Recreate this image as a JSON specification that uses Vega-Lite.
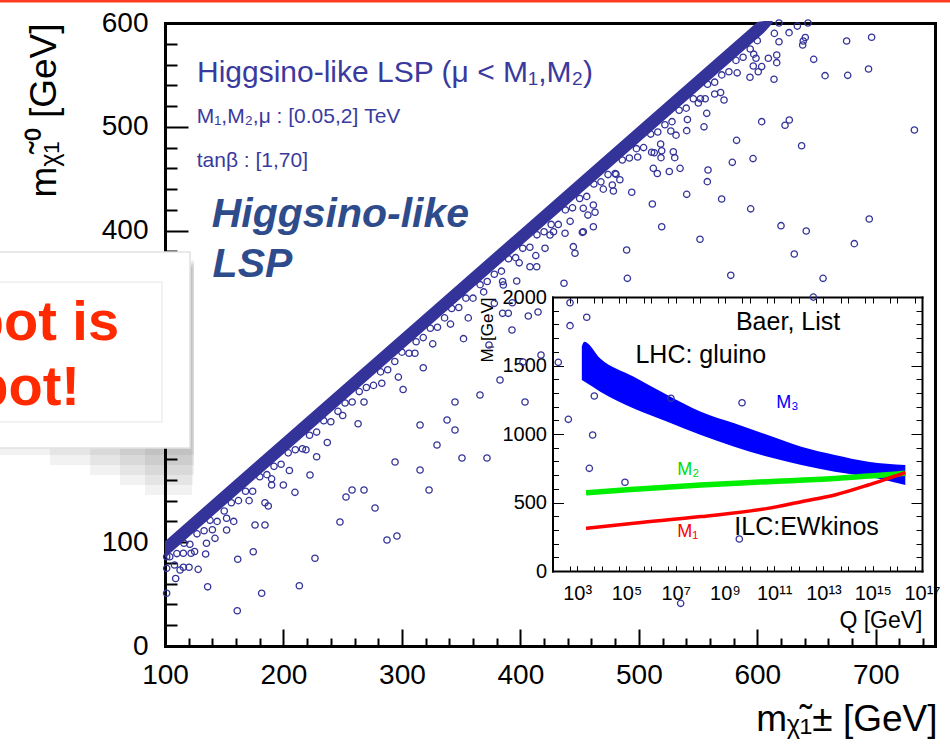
{
 "$schema": "https://vega.github.io/schema/vega-lite/v6.json",
 "width": 770, "height": 623,
 "autosize": {"type": "none"},
 "padding": {"left": 165, "top": 23, "right": 15, "bottom": 108},
 "background": "white",
 "config": {
  "view": {"stroke": null},
  "font": "Liberation Sans",
  "axis": {"grid": false, "zindex": 0, "labelFont": "Liberation Sans", "titleFont": "Liberation Sans", "labelColor": "#000", "titleColor": "#000", "tickColor": "#000", "domainColor": "#000", "titleFontWeight": "normal", "labelFlush": false, "labelOverlap": false}
 },
 "datasets": {
  "band": [
   {"mc":100,"lo":85,"hi":101},{"mc":200,"lo":185,"hi":201},{"mc":300,"lo":285,"hi":301},{"mc":400,"lo":385,"hi":401},{"mc":500,"lo":485,"hi":501},{"mc":600,"lo":585,"hi":601},{"mc":606,"lo":591,"hi":602},{"mc":613,"lo":600,"hi":602}
  ],
  "pts": [
   {"mc":101.4,"mn":50.8},{"mc":101.4,"mn":74.8},{"mc":101.4,"mn":86},{"mc":109,"mn":65},{"mc":112.7,"mn":73.2},{"mc":115.5,"mn":75.8},{"mc":120.3,"mn":75.8},{"mc":115.5,"mn":89.3},{"mc":122,"mn":89.3},{"mc":128,"mn":73.8},{"mc":134.3,"mn":88.6},{"mc":136,"mn":57},{"mc":135,"mn":99},{"mc":142.2,"mn":103.7},{"mc":152,"mn":111.7},{"mc":152,"mn":123},{"mc":161.4,"mn":83.5},{"mc":161,"mn":34},{"mc":174.5,"mn":90.8},{"mc":176,"mn":116.5},{"mc":184.4,"mn":116.5},{"mc":181.6,"mn":50.8},{"mc":184.4,"mn":138},{"mc":187.2,"mn":134.8},{"mc":199.9,"mn":155},{"mc":209.7,"mn":148},{"mc":213.4,"mn":58},{"mc":226.6,"mn":84.5},{"mc":190,"mn":155},
   {"mc":247.7,"mn":119.4},{"mc":252.8,"mn":143.5},{"mc":257.9,"mn":150.2},{"mc":268,"mn":150.2},{"mc":277.3,"mn":132.9},{"mc":287.4,"mn":102.1},{"mc":295.8,"mn":105.9},{"mc":315.3,"mn":169.5},{"mc":329.6,"mn":193.6},{"mc":338.1,"mn":217.7},{"mc":350.7,"mn":181.1},{"mc":371.8,"mn":181.1},{"mc":344.8,"mn":235},{"mc":365.9,"mn":241.7},{"mc":382.8,"mn":256.2},{"mc":373.5,"mn":289.9},{"mc":402.2,"mn":273.5},{"mc":417.4,"mn":280.3},{"mc":392.9,"mn":304.3},{"mc":414.9,"mn":321.7},{"mc":322.9,"mn":150.2},{"mc":294.2,"mn":177.2},{"mc":315.3,"mn":212.8},{"mc":344.8,"mn":208},{"mc":403.9,"mn":235},{"mc":228,"mn":182.3},{"mc":222.4,"mn":164.7},{"mc":263,"mn":214},{"mc":301,"mn":247},{"mc":318,"mn":268},{"mc":352,"mn":296},{"mc":378,"mn":330},
   {"mc":385.6,"mn":347.7},{"mc":396.9,"mn":351.5},{"mc":436.8,"mn":349.3},{"mc":490.3,"mn":354.1},{"mc":655.5,"mn":354.1},{"mc":647.3,"mn":336},{"mc":385,"mn":320.4},{"mc":389.8,"mn":320.4},{"mc":393.2,"mn":330.6},{"mc":406.7,"mn":317.8},{"mc":441.9,"mn":330.6},{"mc":456,"mn":316.6},{"mc":441.9,"mn":308.5},{"mc":432,"mn":273.2},{"mc":462.4,"mn":240.8},{"mc":440.5,"mn":218.3},{"mc":461,"mn":203.2},{"mc":458.2,"mn":171.1},{"mc":488.3,"mn":157.7},{"mc":527.1,"mn":238.6},{"mc":587.1,"mn":234.3},{"mc":584.8,"mn":103},{"mc":535.3,"mn":41.1},
   {"mc":453.1,"mn":399},{"mc":461.6,"mn":403.8},{"mc":444.7,"mn":384.6},{"mc":446.1,"mn":378.2},{"mc":413.8,"mn":365.3},{"mc":408.1,"mn":365.3},{"mc":420.8,"mn":383},{"mc":437.7,"mn":397.5},{"mc":425,"mn":395.8},
   {"mc":618.3,"mn":600},{"mc":642.8,"mn":600},{"mc":626.8,"mn":590.7},{"mc":633.8,"mn":597},{"mc":640.5,"mn":586},{"mc":638.8,"mn":582.7},{"mc":638.3,"mn":578.8},{"mc":618.3,"mn":582},{"mc":614.4,"mn":590},{"mc":609.3,"mn":566},{"mc":616.4,"mn":569.2},{"mc":616.4,"mn":561.8},{"mc":598.9,"mn":566},{"mc":603.7,"mn":558},{"mc":596.6,"mn":558.6},{"mc":593.8,"mn":547.7},{"mc":600.8,"mn":553},{"mc":614.1,"mn":545.8},{"mc":647.6,"mn":565},{"mc":657.2,"mn":549.3},{"mc":675.4,"mn":582.7},{"mc":676.3,"mn":549.6},{"mc":696.5,"mn":586.3},{"mc":693.9,"mn":555.7},{"mc":732.6,"mn":497},{"mc":603.7,"mn":505},{"mc":623.4,"mn":501.5},{"mc":627,"mn":506.6},{"mc":637.4,"mn":481.8},{"mc":582.5,"mn":487},{"mc":571.9,"mn":525.9},{"mc":564,"mn":531.6},{"mc":555,"mn":500},{"mc":557.3,"mn":513},{"mc":550.2,"mn":523},{"mc":540.4,"mn":496.3},{"mc":531.4,"mn":492},{"mc":578.9,"mn":465.8},{"mc":596.4,"mn":469.4},{"mc":558.4,"mn":458.4},{"mc":557.8,"mn":447.2},{"mc":534.8,"mn":460},{"mc":525.7,"mn":457},{"mc":515.6,"mn":455},{"mc":512.2,"mn":460},{"mc":519.3,"mn":477},{"mc":518.7,"mn":470.3},{"mc":530.3,"mn":470.3},{"mc":529.1,"mn":476},{"mc":518.4,"mn":483.5},{"mc":510.8,"mn":475.5},{"mc":540.4,"mn":435},{"mc":569.9,"mn":430.5},{"mc":594.4,"mn":421},{"mc":511.4,"mn":425.7},{"mc":494,"mn":437},{"mc":478.5,"mn":438.2},{"mc":477.6,"mn":444},{"mc":519.3,"mn":403.8},{"mc":452.3,"mn":398.4},{"mc":463,"mn":417.7},{"mc":461.6,"mn":424.7},{"mc":453.1,"mn":421.5},{"mc":489.7,"mn":381.4},{"mc":551.6,"mn":391.7},{"mc":577.6,"mn":357},{"mc":620,"mn":404.8},{"mc":641.3,"mn":399.7},{"mc":631.2,"mn":377.5},{"mc":694.5,"mn":411.2},{"mc":681.9,"mn":387.5},{"mc":480.7,"mn":454.3},
   {"mc":104,"mn":86},{"mc":110,"mn":89},{"mc":116,"mn":99},{"mc":121,"mn":98},{"mc":127,"mn":108},{"mc":133,"mn":111},{"mc":138,"mn":121},{"mc":144,"mn":120},{"mc":150,"mn":130},{"mc":156,"mn":138},{"mc":162,"mn":140},{"mc":168,"mn":149},{"mc":174,"mn":149},{"mc":180,"mn":163},{"mc":186,"mn":165},{"mc":192,"mn":173},{"mc":198,"mn":175},{"mc":204,"mn":186},{"mc":210,"mn":189},{"mc":216,"mn":190},{"mc":222,"mn":203},{"mc":228,"mn":206},{"mc":234,"mn":217},{"mc":240,"mn":216},{"mc":246,"mn":226},{"mc":252,"mn":234},{"mc":258,"mn":235},{"mc":264,"mn":245},{"mc":270,"mn":249},{"mc":276,"mn":251},{"mc":282,"mn":264},{"mc":288,"mn":266},{"mc":294,"mn":274},{"mc":300,"mn":283},{"mc":306,"mn":282},{"mc":312,"mn":293},{"mc":318,"mn":297},{"mc":324,"mn":306},{"mc":330,"mn":307},{"mc":336,"mn":316},{"mc":342,"mn":325},{"mc":348,"mn":326},{"mc":354,"mn":335},{"mc":360,"mn":335},{"mc":366,"mn":348},{"mc":372,"mn":351},{"mc":378,"mn":358},{"mc":384,"mn":361},{"mc":390,"mn":373},{"mc":396,"mn":374},{"mc":402,"mn":383},{"mc":408,"mn":384},{"mc":414,"mn":396},{"mc":420,"mn":399},{"mc":426,"mn":406},{"mc":432,"mn":406},{"mc":438,"mn":420},{"mc":444,"mn":422},{"mc":450,"mn":431},{"mc":456,"mn":433},{"mc":462,"mn":445},{"mc":468,"mn":447},{"mc":474,"mn":454},{"mc":480,"mn":455},{"mc":486,"mn":468},{"mc":492,"mn":470},{"mc":498,"mn":479},{"mc":504,"mn":480},{"mc":510,"mn":493},{"mc":516,"mn":495},{"mc":522,"mn":502},{"mc":528,"mn":505},{"mc":534,"mn":516},{"mc":540,"mn":518},{"mc":546,"mn":527},{"mc":552,"mn":527},{"mc":558,"mn":541},{"mc":564,"mn":543},{"mc":570,"mn":550},{"mc":576,"mn":553},{"mc":582,"mn":564},{"mc":588,"mn":567},{"mc":594,"mn":575},{"mc":600,"mn":583},
   {"mc":108,"mn":78},{"mc":125,"mn":91},{"mc":140,"mn":112},{"mc":158,"mn":120},{"mc":171,"mn":140},{"mc":190,"mn":161},{"mc":205,"mn":169},{"mc":219,"mn":189},{"mc":237,"mn":196},{"mc":250,"mn":222},{"mc":268,"mn":235},{"mc":283,"mn":253},{"mc":297,"mn":259},{"mc":311,"mn":282},{"mc":326,"mn":291},{"mc":341,"mn":310},{"mc":356,"mn":316},{"mc":369,"mn":341},{"mc":385,"mn":351},{"mc":399,"mn":369},{"mc":413,"mn":376},{"mc":428,"mn":399},{"mc":442,"mn":409},{"mc":457,"mn":415},{"mc":470,"mn":440},{"mc":484,"mn":449},{"mc":499,"mn":471},{"mc":513,"mn":475},{"mc":527,"mn":496},{"mc":541,"mn":507},{"mc":556,"mn":527},{"mc":569,"mn":533},{"mc":583,"mn":552},{"mc":597,"mn":570}
  ],
  "m3": [
   {"Q":1550,"lo":1394,"hi":1640},{"Q":1950,"lo":1383,"hi":1674},{"Q":8700,"lo":1309,"hi":1552},{"Q":200000,"lo":1187,"hi":1418},{"Q":4600000,"lo":1090,"hi":1285},{"Q":105000000,"lo":993,"hi":1163},{"Q":2400000000,"lo":907,"hi":1078},{"Q":55000000000,"lo":834,"hi":993},{"Q":1260000000000,"lo":774,"hi":907},{"Q":29000000000000,"lo":725,"hi":847},{"Q":660000000000000,"lo":688,"hi":798},{"Q":21000000000000000,"lo":628,"hi":774}
  ],
  "m2": [
   {"Q":2300,"M":571},{"Q":200000,"M":596},{"Q":105000000,"M":628},{"Q":55000000000,"M":652},{"Q":29000000000000,"M":676},{"Q":21000000000000000,"M":713}
  ],
  "m1": [
   {"Q":2300,"M":311},{"Q":200000,"M":348},{"Q":105000000,"M":397},{"Q":55000000000,"M":457},{"Q":1260000000000,"M":506},{"Q":29000000000000,"M":555},{"Q":660000000000000,"M":628},{"Q":4400000000000000,"M":677},{"Q":21000000000000000,"M":718}
  ]
 },
 "layer": [
  {
   "data": {"name": "band"},
   "mark": {"type": "area", "color": "#333399", "opacity": 1},
   "encoding": {
    "x": {"field": "mc", "type": "quantitative", "scale": {"domain": [100, 750], "nice": false, "zero": false},
     "axis": {"orient": "bottom", "values": [100,200,300,400,500,600,700], "tickSize": -17, "tickWidth": 2, "domainWidth": 3, "domainCap": "square", "labelFontSize": 28, "labelPadding": 32, "title": "mᵪ̃₁± [GeV]", "titleFontSize": 37, "titleX": 772, "titleY": 84, "titleAlign": "right", "titleBaseline": "alphabetic"}},
    "y": {"field": "lo", "type": "quantitative", "scale": {"domain": [0, 600], "nice": false, "zero": false},
     "axis": {"orient": "left", "values": [0,100,200,300,400,500,600], "tickSize": -23, "tickWidth": 2, "domainWidth": 3, "domainCap": "square", "labelFontSize": 28, "labelPadding": 40, "title": "mᵪ̃₁⁰ [GeV]", "titleFontSize": 37, "titleAngle": -90, "titleX": -110, "titleY": 0, "titleAlign": "right", "titleBaseline": "alphabetic"}},
    "y2": {"field": "hi"}
   }
  },
  {
   "data": {"name": "band"},
   "mark": {"type": "point", "opacity": 0},
   "encoding": {
    "x": {"field": "mc", "type": "quantitative", "scale": {"domain": [100, 750], "nice": false, "zero": false},
     "axis": {"orient": "bottom", "values": [120,140,160,180,220,240,260,280,320,340,360,380,420,440,460,480,520,540,560,580,620,640,660,680,720,740], "tickSize": -8, "tickWidth": 2, "domain": false, "labels": false, "title": null}},
    "y": {"field": "lo", "type": "quantitative", "scale": {"domain": [0, 600], "nice": false, "zero": false},
     "axis": {"orient": "left", "values": [20,40,60,80,120,140,160,180,220,240,260,280,320,340,360,380,420,440,460,480,520,540,560,580], "tickSize": -12, "tickWidth": 2, "domain": false, "labels": false, "title": null}}
   }
  },
  {
   "data": {"name": "m3"},
   "mark": {"type": "area", "color": "#0000ff", "interpolate": "monotone"},
   "encoding": {
    "x": {"field": "Q", "type": "quantitative", "scale": {"type": "log", "domain": [100, 1e17], "range": [387.5, 757], "nice": false},
     "axis": {"orient": "bottom", "offset": -75, "values": [1e3,1e5,1e7,1e9,1e11,1e13,1e15,1e17], "labelExpr": "datum.value < 5e3 ? '10³' : datum.value < 5e5 ? '10⁵' : datum.value < 5e7 ? '10⁷' : datum.value < 5e9 ? '10⁹' : datum.value < 5e11 ? '10¹¹' : datum.value < 5e13 ? '10¹³' : datum.value < 5e15 ? '10¹⁵' : '10¹⁷'", "tickSize": -5, "tickWidth": 1, "domainWidth": 2, "domainCap": "square", "labelFontSize": 20, "labelPadding": 17, "title": "Q [GeV]", "titleFontSize": 23, "titleX": 757, "titleY": 56, "titleAlign": "right", "titleBaseline": "alphabetic"}},
    "y": {"field": "lo", "type": "quantitative", "scale": {"domain": [0, 2000], "range": [548, 274], "nice": false, "zero": false},
     "axis": {"orient": "left", "offset": -387.5, "values": [0,500,1000,1500,2000], "format": "d", "tickSize": -11, "tickWidth": 1, "domainWidth": 2, "domainCap": "square", "labelFontSize": 20, "labelPadding": 17, "title": "Mᵢ [GeV]", "titleFontSize": 17, "titleAngle": -90, "titleX": -60, "titleY": 274, "titleAlign": "right", "titleBaseline": "alphabetic"}},
    "y2": {"field": "hi"}
   }
  },
  {
   "data": {"name": "m2"},
   "mark": {"type": "line", "color": "#00ee00", "strokeWidth": 5.5, "interpolate": "monotone"},
   "encoding": {
    "x": {"field": "Q", "type": "quantitative", "scale": {"type": "log", "domain": [100, 1e17], "range": [387.5, 757], "nice": false},
     "axis": {"orient": "bottom", "offset": -75, "values": [500,1e3,5e3,1e4,5e4,1e5,5e5,1e6,5e6,1e7,5e7,1e8,5e8,1e9,5e9,1e10,5e10,1e11,5e11,1e12,5e12,1e13,5e13,1e14,5e14,1e15,5e15,1e16,5e16], "tickSize": -5, "tickWidth": 1, "domain": false, "labels": false, "title": null}},
    "y": {"field": "M", "type": "quantitative", "scale": {"domain": [0, 2000], "range": [548, 274], "nice": false, "zero": false},
     "axis": {"orient": "left", "offset": -387.5, "values": [100,200,300,400,600,700,800,900,1100,1200,1300,1400,1600,1700,1800,1900], "tickSize": -6, "tickWidth": 1, "domain": false, "labels": false, "title": null}}
   }
  },
  {
   "data": {"name": "m1"},
   "mark": {"type": "line", "color": "#ff0000", "strokeWidth": 3.5, "interpolate": "monotone"},
   "encoding": {
    "x": {"field": "Q", "type": "quantitative", "scale": {"type": "log", "domain": [100, 1e17], "range": [387.5, 757], "nice": false},
     "axis": {"orient": "top", "offset": -274, "values": [500,1e3,5e3,1e4,5e4,1e5,5e5,1e6,5e6,1e7,5e7,1e8,5e8,1e9,5e9,1e10,5e10,1e11,5e11,1e12,5e12,1e13,5e13,1e14,5e14,1e15,5e15,1e16,5e16], "tickSize": -6, "tickWidth": 1, "domainWidth": 2, "domainCap": "square", "labels": false, "title": null}},
    "y": {"field": "M", "type": "quantitative", "scale": {"domain": [0, 2000], "range": [548, 274], "nice": false, "zero": false},
     "axis": {"orient": "right", "offset": -13, "values": [100,200,300,400,600,700,800,900,1100,1200,1300,1400,1600,1700,1800,1900], "tickSize": -6, "tickWidth": 1, "domainWidth": 2, "domainCap": "square", "labels": false, "title": null}}
   }
  },
  {
   "data": {"values": [{"Q": 2800000000, "M": 1759, "t": "Baer, List"}, {"Q": 233000, "M": 1516, "t": "LHC: gluino"}, {"Q": 2400000000, "M": 263, "t": "ILC:EWkinos"}]},
   "mark": {"type": "text", "align": "left", "baseline": "alphabetic", "fontSize": 25, "color": "#000", "font": "Liberation Sans"},
   "encoding": {
    "x": {"field": "Q", "type": "quantitative", "scale": {"type": "log", "domain": [100, 1e17], "range": [387.5, 757], "nice": false}, "axis": null},
    "y": {"field": "M", "type": "quantitative", "scale": {"domain": [0, 2000], "range": [548, 274], "nice": false, "zero": false},
     "axis": {"orient": "right", "offset": -13, "values": [500,1000,1500], "tickSize": -11, "tickWidth": 1, "domain": false, "labels": false, "title": null}},
    "text": {"field": "t"}
   }
  },
  {
   "data": {"values": [{"Q": 120000000000, "M": 1187, "t": "M₃"}, {"Q": 11700000, "M": 700, "t": "M₂"}, {"Q": 11700000, "M": 250, "t": "M₁"}]},
   "mark": {"type": "text", "align": "left", "baseline": "alphabetic", "fontSize": 18, "font": "Liberation Sans"},
   "encoding": {
    "x": {"field": "Q", "type": "quantitative", "scale": {"type": "log", "domain": [100, 1e17], "range": [387.5, 757], "nice": false}, "axis": null},
    "y": {"field": "M", "type": "quantitative", "scale": {"domain": [0, 2000], "range": [548, 274], "nice": false, "zero": false}, "axis": null},
    "color": {"field": "t", "type": "nominal", "scale": {"domain": ["M₃", "M₂", "M₁"], "range": ["#0000ff", "#00dd00", "#ff0000"]}, "legend": null},
    "text": {"field": "t"}
   }
  },
  {
   "data": {"name": "pts"},
   "mark": {"type": "point", "filled": false, "color": "#333399", "size": 40, "strokeWidth": 1.3, "opacity": 1},
   "encoding": {
    "x": {"field": "mc", "type": "quantitative", "scale": {"domain": [100, 750], "nice": false, "zero": false},
     "axis": {"orient": "top", "ticks": false, "labels": false, "domainWidth": 3, "domainCap": "square", "title": null}},
    "y": {"field": "mn", "type": "quantitative", "scale": {"domain": [0, 600], "nice": false, "zero": false},
     "axis": {"orient": "right", "ticks": false, "labels": false, "domainWidth": 3, "domainCap": "square", "title": null}}
   }
  },
  {
   "data": {"values": [{"x": 127, "y": 543.2, "t": "Higgsino-like LSP (μ < M₁,M₂)"}]},
   "mark": {"type": "text", "align": "left", "baseline": "alphabetic", "fontSize": 30, "color": "#3a3a9e", "font": "Liberation Sans"},
   "encoding": {
    "x": {"field": "x", "type": "quantitative", "scale": {"domain": [100, 750], "nice": false, "zero": false}, "axis": null},
    "y": {"field": "y", "type": "quantitative", "scale": {"domain": [0, 600], "nice": false, "zero": false}, "axis": null},
    "text": {"field": "t"}
   }
  },
  {
   "data": {"values": [{"x": 126.8, "y": 503.4, "t": "M₁,M₂,μ : [0.05,2] TeV"}, {"x": 126.8, "y": 461.6, "t": "tanβ : [1,70]"}]},
   "mark": {"type": "text", "align": "left", "baseline": "alphabetic", "fontSize": 21, "color": "#3a3a9e", "font": "Liberation Sans"},
   "encoding": {
    "x": {"field": "x", "type": "quantitative", "scale": {"domain": [100, 750], "nice": false, "zero": false}, "axis": null},
    "y": {"field": "y", "type": "quantitative", "scale": {"domain": [0, 600], "nice": false, "zero": false}, "axis": null},
    "text": {"field": "t"}
   }
  },
  {
   "data": {"values": [{"x": 139.4, "y": 403.9, "t": "Higgsino-like"}, {"x": 140.2, "y": 355.7, "t": "LSP"}]},
   "mark": {"type": "text", "align": "left", "baseline": "alphabetic", "fontSize": 41, "fontWeight": "bold", "fontStyle": "italic", "color": "#2e4c8c", "font": "Liberation Sans"},
   "encoding": {
    "x": {"field": "x", "type": "quantitative", "scale": {"domain": [100, 750], "nice": false, "zero": false}, "axis": null},
    "y": {"field": "y", "type": "quantitative", "scale": {"domain": [0, 600], "nice": false, "zero": false}, "axis": null},
    "text": {"field": "t"}
   }
  },
  {
   "data": {"values": [{"x1": -45, "x2": 124.5, "y1": 184, "y2": 371.8}, {"x1": 2.9, "x2": 124.5, "y1": 174.3, "y2": 369.8}, {"x1": 36.7, "x2": 124.5, "y1": 164.7, "y2": 367.9}, {"x1": 62, "x2": 123.6, "y1": 155.1, "y2": 366}, {"x1": 83.1, "x2": 122.8, "y1": 145.4, "y2": 364}]},
   "mark": {"type": "rect", "color": "#000", "opacity": 0.05},
   "encoding": {
    "x": {"field": "x1", "type": "quantitative", "scale": {"domain": [100, 750], "nice": false, "zero": false}, "axis": null},
    "x2": {"field": "x2"},
    "y": {"field": "y1", "type": "quantitative", "scale": {"domain": [0, 600], "nice": false, "zero": false}, "axis": null},
    "y2": {"field": "y2"}
   }
  },
  {
   "data": {"values": [{"x1": -45, "x2": 121.1, "y1": 190.7, "y2": 379.5}]},
   "mark": {"type": "rect", "fill": "#ffffff", "stroke": "#e2e2e2", "strokeWidth": 1.5},
   "encoding": {
    "x": {"field": "x1", "type": "quantitative", "scale": {"domain": [100, 750], "nice": false, "zero": false}, "axis": null},
    "x2": {"field": "x2"},
    "y": {"field": "y1", "type": "quantitative", "scale": {"domain": [0, 600], "nice": false, "zero": false}, "axis": null},
    "y2": {"field": "y2"}
   }
  },
  {
   "data": {"values": [{"x1": -45, "x2": 97.5, "y1": 215.7, "y2": 350.6}]},
   "mark": {"type": "rect", "fill": null, "fillOpacity": 0, "stroke": "#eeeeee", "strokeWidth": 1.5},
   "encoding": {
    "x": {"field": "x1", "type": "quantitative", "scale": {"domain": [100, 750], "nice": false, "zero": false}, "axis": null},
    "x2": {"field": "x2"},
    "y": {"field": "y1", "type": "quantitative", "scale": {"domain": [0, 600], "nice": false, "zero": false}, "axis": null},
    "y2": {"field": "y2"}
   }
  },
  {
   "data": {"values": [{"x": 61.2, "y": 294.7, "t": "spot is"}, {"x": 28.2, "y": 232.1, "t": "spot!"}]},
   "mark": {"type": "text", "align": "right", "baseline": "alphabetic", "fontSize": 56, "fontWeight": "bold", "color": "#ff2a00", "font": "Liberation Sans"},
   "encoding": {
    "x": {"field": "x", "type": "quantitative", "scale": {"domain": [100, 750], "nice": false, "zero": false}, "axis": null},
    "y": {"field": "y", "type": "quantitative", "scale": {"domain": [0, 600], "nice": false, "zero": false}, "axis": null},
    "text": {"field": "t"}
   }
  },
  {
   "data": {"values": [{"x1": -45, "x2": 810, "y": 621.2}]},
   "mark": {"type": "rule", "color": "#ff3b1f", "strokeWidth": 3},
   "encoding": {
    "x": {"field": "x1", "type": "quantitative", "scale": {"domain": [100, 750], "nice": false, "zero": false}, "axis": null},
    "x2": {"field": "x2"},
    "y": {"field": "y", "type": "quantitative", "scale": {"domain": [0, 600], "nice": false, "zero": false}, "axis": null}
   }
  }
 ],
 "resolve": {"scale": {"x": "independent", "y": "independent", "color": "independent"}, "axis": {"x": "independent", "y": "independent"}}
}
